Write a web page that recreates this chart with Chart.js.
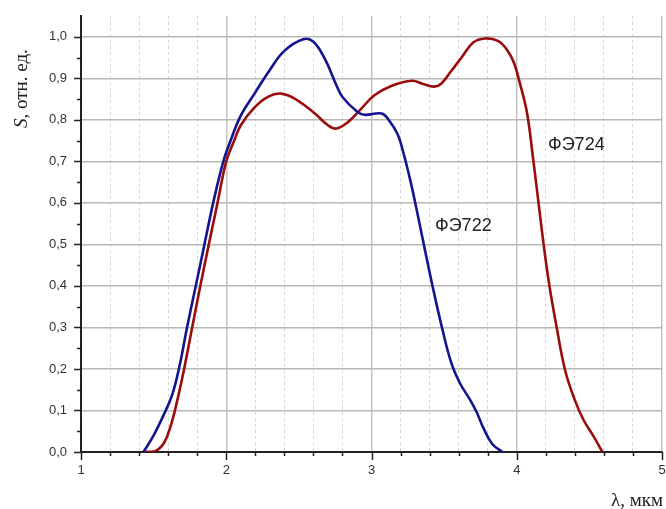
<!DOCTYPE html>
<html>
<head>
<meta charset="utf-8">
<script src="https://cdn.jsdelivr.net/npm/chart.js@4.4.1/dist/chart.umd.min.js"></script>
<style>
  html, body { margin: 0; padding: 0; background: #fff; }
  #wrap { width: 666px; height: 509px; position: relative; }
</style>
</head>
<body>
<div id="wrap"><canvas id="chart"></canvas></div>
<script>
// ФЭ722 (blue)
const lambda722 = [1.43, 1.50, 1.57, 1.63, 1.68, 1.73, 1.79, 1.85, 1.91, 1.98, 2.03, 2.10, 2.20, 2.30, 2.40,
    2.53, 2.60, 2.68, 2.76, 2.80, 2.90, 2.95, 3.07, 3.12, 3.18, 3.22, 3.27, 3.31, 3.36, 3.42, 3.485,
    3.55, 3.61, 3.68, 3.725, 3.77, 3.83, 3.90];
const s722 = [0, 0.04, 0.09, 0.14, 0.21, 0.30, 0.40, 0.50, 0.60, 0.70, 0.75, 0.81, 0.866, 0.92, 0.966,
    0.994, 0.988, 0.946, 0.882, 0.855, 0.82, 0.812, 0.815, 0.799, 0.765, 0.72, 0.65, 0.585, 0.50, 0.40, 0.30,
    0.214, 0.165, 0.125, 0.095, 0.058, 0.02, 0];

// ФЭ724 (red)
const lambda724 = [1.43, 1.51, 1.57, 1.615, 1.66, 1.71, 1.76, 1.81, 1.88, 1.94, 2.00, 2.055, 2.10, 2.195, 2.29,
    2.38, 2.49, 2.61, 2.70, 2.76, 2.84, 2.93, 3.02, 3.14, 3.28, 3.35, 3.43, 3.48, 3.55, 3.62, 3.70,
    3.78, 3.87, 3.93, 3.98, 4.02, 4.07, 4.115, 4.15, 4.185, 4.225, 4.275, 4.333, 4.40, 4.46, 4.53, 4.59];
const s724 = [0, 0.002, 0.021, 0.06, 0.12, 0.20, 0.29, 0.38, 0.50, 0.60, 0.70, 0.75, 0.787, 0.83, 0.856,
    0.863, 0.847, 0.815, 0.787, 0.779, 0.795, 0.827, 0.859, 0.882, 0.894, 0.887, 0.88, 0.887, 0.918, 0.95, 0.986,
    0.996, 0.99, 0.97, 0.938, 0.89, 0.818, 0.70, 0.60, 0.50, 0.40, 0.30, 0.197, 0.125, 0.077, 0.037, 0];

const seriesNames = ['ФЭ722', 'ФЭ724'];
const xTitle = 'λ, мкм';
const yTitleItalic = 'S';
const yTitleRest = ', отн. ед.';

const toPoints = (xs, ys) => xs.map((x, i) => ({ x: x, y: ys[i] }));
const isInt = v => Math.abs(v - Math.round(v)) < 1e-6;
const isTenth = v => Math.round(v * 100) % 10 === 0;

// axis tick marks, series labels and axis titles
const extras = {
    id: 'extras',
    afterDraw(chart) {
        const ctx = chart.ctx;
        const xs = chart.scales.x, ys = chart.scales.y;
        const area = chart.chartArea;
        ctx.save();
        ctx.strokeStyle = '#222';
        ctx.lineWidth = 1.5;
        ctx.beginPath();
        xs.ticks.forEach(t => {
            const px = Math.round(xs.getPixelForValue(t.value)) + 0.5;
            const len = isInt(t.value) ? 8 : 4;
            ctx.moveTo(px, area.bottom);
            ctx.lineTo(px, area.bottom + len);
        });
        ys.ticks.forEach(t => {
            if (t.value > 1.001) return;
            const py = Math.round(ys.getPixelForValue(t.value)) + 0.5;
            const len = isTenth(t.value) ? 7 : 4;
            ctx.moveTo(area.left, py);
            ctx.lineTo(area.left - len, py);
        });
        ctx.stroke();

        ctx.fillStyle = '#222';
        ctx.font = '18px "Liberation Sans", Arial, sans-serif';
        ctx.textBaseline = 'middle';
        ctx.textAlign = 'left';
        ctx.fillText(seriesNames[0], 435, 226);
        ctx.fillText(seriesNames[1], 548, 145);

        ctx.textBaseline = 'alphabetic';
        ctx.textAlign = 'right';
        ctx.font = '19px "Liberation Serif", "Times New Roman", serif';
        ctx.fillText(xTitle, 663, 506);

        ctx.translate(27, 128);
        ctx.rotate(-Math.PI / 2);
        ctx.textAlign = 'left';
        ctx.font = 'italic 19px "Liberation Serif", "Times New Roman", serif';
        ctx.fillText(yTitleItalic, 0, 0);
        const w = ctx.measureText(yTitleItalic).width;
        ctx.font = '19px "Liberation Serif", "Times New Roman", serif';
        ctx.fillText(yTitleRest, w, 0);
        ctx.restore();
    }
};

window.onload = () => {
    Chart.defaults.font.family = '"Liberation Sans", Arial, sans-serif';
    const ctx = document.getElementById('chart').getContext('2d');
    const lineStyle = color => ({
        borderColor: color,
        borderWidth: 2.6,
        pointRadius: 0,
        tension: 0.4,
        fill: false
    });
    new Chart(ctx, {
        type: 'line',
        data: {
            datasets: [
                Object.assign({ label: seriesNames[0], data: toPoints(lambda722, s722) }, lineStyle('#14148f')),
                Object.assign({ label: seriesNames[1], data: toPoints(lambda724, s724) }, lineStyle('#990d0d'))
            ]
        },
        options: {
            responsive: true,
            maintainAspectRatio: false,
            animation: false,
            layout: { padding: { left: 0, right: 4, top: 16, bottom: 0 } },
            plugins: {
                legend: { display: false },
                tooltip: { enabled: false }
            },
            scales: {
                x: {
                    type: 'linear',
                    min: 1,
                    max: 5,
                    afterFit: s => { s.height = 57; s.paddingLeft = 0; s.paddingRight = 0; },
                    ticks: {
                        stepSize: 0.2,
                        autoSkip: false,
                        maxRotation: 0,
                        padding: 11,
                        color: '#333',
                        font: { size: 13 },
                        callback: v => isInt(v) ? String(Math.round(v)) : ''
                    },
                    grid: {
                        drawTicks: false,
                        color: c => isInt(c.tick.value) ? '#c4c4c4' : '#d6d6d6',
                        lineWidth: c => isInt(c.tick.value) ? 1.5 : 1
                    },
                    border: {
                        color: '#222',
                        width: 2,
                        dash: c => (c.tick && !isInt(c.tick.value)) ? [3, 3] : []
                    }
                },
                y: {
                    min: 0,
                    max: 1.05,
                    afterFit: s => { s.width = 81; s.paddingTop = 0; s.paddingBottom = 0; },
                    ticks: {
                        stepSize: 0.05,
                        autoSkip: false,
                        padding: 14,
                        color: '#333',
                        font: { size: 13 },
                        callback: v => (v <= 1.001 && isTenth(v)) ? v.toFixed(1).replace('.', ',') : ''
                    },
                    grid: {
                        drawTicks: false,
                        color: c => (c.tick.value <= 1.001 && isTenth(c.tick.value)) ? '#b8b8b8' : 'rgba(0,0,0,0)',
                        lineWidth: 1.5
                    },
                    border: { color: '#222', width: 2 }
                }
            }
        },
        plugins: [extras]
    });
};
</script>
</body>
</html>
